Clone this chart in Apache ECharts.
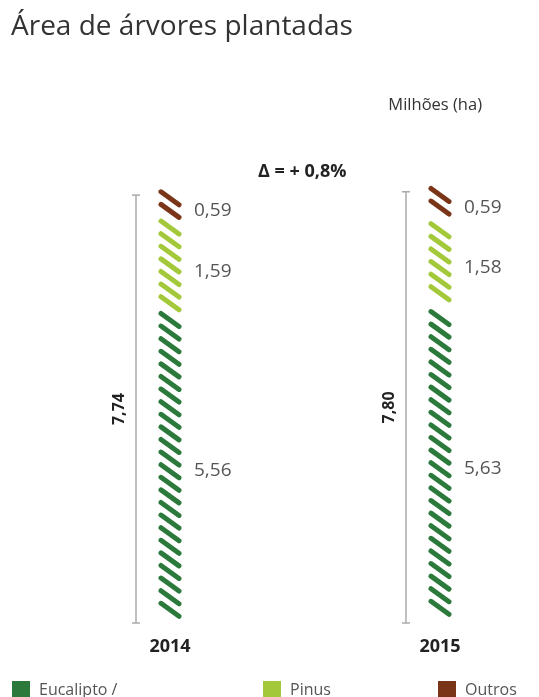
<!DOCTYPE html>
<html>
<head>
<meta charset="utf-8">
<script src="https://cdn.jsdelivr.net/npm/echarts@6/dist/echarts.min.js"></script>
<style>
html,body{margin:0;padding:0;background:#fff;}
#chart{width:539px;height:697px;}
</style>
</head>
<body>
<div id="chart"></div>
<script>
const categories = ['2014', '2015'];
const eucalipto = [5.56, 5.63];
const pinus = [1.59, 1.58];
const outros = [0.59, 0.59];
const totals = [7.74, 7.80];
const deltaText = 'Δ = + 0,8%';

const colors = { eucalipto: '#2b7a3c', pinus: '#a3c93a', outros: '#7a3519' };
const FONT = '"Open Sans", "Noto Sans", sans-serif';

function fmt(v) { return v.toFixed(2).replace('.', ','); }

function segData(vals, bases) {
  return vals.map((v, i) => [i, bases[i], bases[i] + v, v]);
}
const zero = categories.map(() => 0);
const baseP = eucalipto.slice();
const baseO = eucalipto.map((v, i) => v + pinus[i]);

function hatchRender(color) {
  return function (params, api) {
    const cat = api.value(0);
    const x = api.coord([cat, 0])[0];
    const yb = api.coord([cat, api.value(1)])[1];
    const yt = api.coord([cat, api.value(2)])[1];
    const H = yb - yt;
    const h = 13, w = 18, sp = 12.6;
    const n = Math.max(1, Math.floor((H - h) / sp) + 1);
    const used = (n - 1) * sp + h;
    const off = (H - used) / 2;
    const children = [];
    for (let k = 0; k < n; k++) {
      const y0 = yt + off + k * sp;
      children.push({
        type: 'line',
        shape: { x1: x - w / 2, y1: y0, x2: x + w / 2, y2: y0 + h },
        style: { stroke: color, lineWidth: 5, lineCap: 'round' }
      });
    }
    children.push({
      type: 'text',
      style: {
        text: fmt(api.value(3)), x: x + 24, y: (yt + yb) / 2 + 6,
        fill: '#555', font: '400 19px ' + FONT,
        textAlign: 'left', textVerticalAlign: 'middle'
      }
    });
    return { type: 'group', children };
  };
}

function bracketRender(params, api) {
  const cat = api.value(0);
  const x = api.coord([cat, 0])[0] - 34;
  const yb = api.coord([cat, 0])[1] + 3;
  const yt = api.coord([cat, api.value(1)])[1] + 7;
  const st = { stroke: '#aaa', lineWidth: 1.5 };
  return {
    type: 'group',
    children: [
      { type: 'line', shape: { x1: x, y1: yt, x2: x, y2: yb }, style: st },
      { type: 'line', shape: { x1: x - 4, y1: yt, x2: x + 4, y2: yt }, style: st },
      { type: 'line', shape: { x1: x - 4, y1: yb, x2: x + 4, y2: yb }, style: st },
      {
        type: 'text', x: x - 17, y: (yt + yb) / 2, rotation: Math.PI / 2,
        style: {
          text: fmt(api.value(1)), x: 0, y: 0, fill: '#222',
          font: '700 16px ' + FONT, textAlign: 'center', textVerticalAlign: 'middle'
        }
      }
    ]
  };
}

const chart = echarts.init(document.getElementById('chart'));
const legendCommon = {
  top: 681, padding: 0, icon: 'rect', itemWidth: 18, itemHeight: 18, itemGap: 0,
  textStyle: { color: '#555', fontSize: 16, fontFamily: FONT, padding: [0, 0, 0, 4] },
  selectedMode: false
};
chart.setOption({
  animation: false,
  title: {
    text: 'Área de árvores plantadas', left: 6, top: 8,
    textStyle: { fontSize: 28, fontWeight: 400, color: '#333', fontFamily: FONT }
  },
  graphic: [
    { type: 'text', right: 57, top: 97, style: { text: 'Milhões (ha)', fill: '#333', font: '400 16.5px ' + FONT } },
    { type: 'text', left: 258, top: 163, style: { text: deltaText, fill: '#222', font: '700 18px ' + FONT } }
  ],
  legend: [
    Object.assign({ left: 12, data: ['Eucalipto /'] }, legendCommon),
    Object.assign({ left: 263, data: ['Pinus'] }, legendCommon),
    Object.assign({ left: 438, data: ['Outros'] }, legendCommon)
  ],
  grid: { left: 170, right: 99, top: 173.6, bottom: 77 },
  xAxis: {
    type: 'category', data: categories, boundaryGap: false,
    axisLine: { show: false }, axisTick: { show: false }, splitLine: { show: false },
    axisLabel: { color: '#222', fontWeight: 700, fontSize: 18, fontFamily: FONT, margin: 18 }
  },
  yAxis: { type: 'value', min: 0, max: 8, show: false },
  series: [
    { name: 'Eucalipto /', type: 'custom', itemStyle: { color: colors.eucalipto }, renderItem: hatchRender(colors.eucalipto), data: segData(eucalipto, zero) },
    { name: 'Pinus', type: 'custom', itemStyle: { color: colors.pinus }, renderItem: hatchRender(colors.pinus), data: segData(pinus, baseP) },
    { name: 'Outros', type: 'custom', itemStyle: { color: colors.outros }, renderItem: hatchRender(colors.outros), data: segData(outros, baseO) },
    { name: 'total', type: 'custom', renderItem: bracketRender, data: totals.map((t, i) => [i, t]) }
  ]
});
</script>
</body>
</html>
